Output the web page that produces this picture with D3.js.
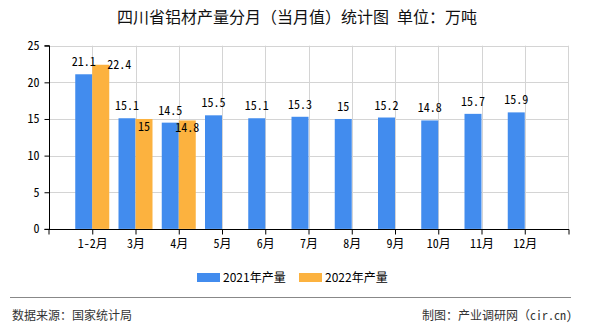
<!DOCTYPE html>
<html><head><meta charset="utf-8">
<script src="https://cdn.jsdelivr.net/npm/d3@7"></script>
<style>
html,body{margin:0;padding:0;background:#fff;}
svg{display:block;}
</style></head>
<body>
<svg id="chart" width="590" height="330"></svg>
<script>
const categories = ["1-2月","3月","4月","5月","6月","7月","8月","9月","10月","11月","12月"];
const values2021 = [21.1,15.1,14.5,15.5,15.1,15.3,15,15.2,14.8,15.7,15.9];
const values2022 = [22.4,15,14.8];
const yTicks = [0,5,10,15,20,25];
const seriesNames = ["2021年产量","2022年产量"];
const titleText = "四川省铝材产量分月（当月值）统计图 单位：万吨";
const sourceText = "数据来源：国家统计局";
const creditText = "制图：产业调研网（cir.cn)";

const colors = ["#428CEE","#FCB23F"];
const monoFont = "'Noto Sans Mono CJK SC','Liberation Mono','DejaVu Sans Mono',monospace";
const sansFont = "'Noto Sans CJK SC','Liberation Sans',sans-serif";

const svg = d3.select("#chart");
const pL = 49, pR = 568, pT = 45.7, pB = 228.9;

const x = d3.scalePoint().domain(categories).range([pL, pR]).padding(1);
const y = d3.scaleLinear().domain([0,25]).range([pB, pT]);
const barW = 17;

// title
svg.append("text").attr("x",297).attr("y",23).attr("text-anchor","middle")
  .attr("font-family",monoFont).attr("font-size",16).attr("fill","#111").text(titleText);

// grid
const g = svg.append("g");
g.selectAll("line.hg").data(yTicks.filter(d=>d>0)).join("line")
  .attr("x1",pL).attr("x2",pR).attr("y1",d=>Math.round(y(d))+0.5).attr("y2",d=>Math.round(y(d))+0.5)
  .attr("stroke","#d4d4d4").attr("stroke-width",1);
g.selectAll("line.vg").data(categories).join("line")
  .attr("x1",d=>Math.round(x(d))+0.5).attr("x2",d=>Math.round(x(d))+0.5)
  .attr("y1",pT).attr("y2",pB).attr("stroke","#d4d4d4");
g.append("line").attr("x1",pR+0.5).attr("x2",pR+0.5).attr("y1",pT).attr("y2",pB).attr("stroke","#d4d4d4");

// bars
svg.append("g").selectAll("rect").data(values2021).join("rect")
  .attr("x",(d,i)=>x(categories[i])-barW).attr("width",barW)
  .attr("y",d=>y(d)).attr("height",d=>pB-y(d)).attr("fill",colors[0]);
svg.append("g").selectAll("rect").data(values2022).join("rect")
  .attr("x",(d,i)=>x(categories[i])).attr("width",barW)
  .attr("y",d=>y(d)).attr("height",d=>pB-y(d)).attr("fill",colors[1]);

// axes
const yAxis = d3.axisLeft(y).tickValues(yTicks).tickSize(5).tickPadding(5);
const ya = svg.append("g").attr("transform",`translate(${pL+0.5},0)`).call(yAxis);
ya.select(".domain").attr("stroke","#000").attr("d",`M-5,${pT}H0V${pB+0.5}H-5`);
ya.selectAll(".tick line").attr("stroke","#000");
ya.selectAll("text").attr("font-family",monoFont).attr("font-size",12).attr("fill","#000");

const xAxis = d3.axisBottom(x).tickSize(5).tickPadding(5);
const xa = svg.append("g").attr("transform",`translate(0,${Math.round(pB)+0.5})`).call(xAxis);
xa.select(".domain").attr("stroke","#000").attr("d",`M${pL},5V0H${pR+1}V5`);
xa.selectAll(".tick line").attr("stroke","#000");
xa.selectAll("text").attr("font-family",monoFont).attr("font-size",12).attr("fill","#000");

// labels
const lab = svg.append("g").attr("font-family",monoFont).attr("font-size",12).attr("fill","#000");
lab.selectAll("text.a").data(values2021).join("text")
  .attr("x",(d,i)=>x(categories[i])-barW/2).attr("y",d=>y(d)-8)
  .attr("text-anchor","middle").text(d=>d);
lab.selectAll("text.b").data(values2022).join("text")
  .attr("x",(d,i)=> i===0 ? x(categories[i])+barW-2 : x(categories[i])+barW/2)
  .attr("y",(d,i)=> i===0 ? y(d)+4 : y(d)+12)
  .attr("text-anchor",(d,i)=> i===0 ? "start" : "middle").text(d=>d);

// legend
const leg = svg.append("g");
const legX = [197, 299];
seriesNames.forEach((n,i)=>{
  leg.append("rect").attr("x",legX[i]).attr("y",273).attr("width",23).attr("height",9).attr("fill",colors[i]);
  leg.append("text").attr("x",legX[i]+26).attr("y",282).attr("font-family",sansFont)
    .attr("font-size",12).attr("fill","#000").text(n);
});

// footer
svg.append("line").attr("x1",10).attr("x2",571).attr("y1",297.5).attr("y2",297.5).attr("stroke","#888").attr("stroke-width",1);
svg.append("text").attr("x",12).attr("y",320).attr("font-family",monoFont).attr("font-size",12).attr("fill","#333").text(sourceText);
svg.append("text").attr("x",572).attr("y",320).attr("text-anchor","end").attr("font-family",monoFont).attr("font-size",12).attr("fill","#333").text(creditText);
</script>
</body></html>
